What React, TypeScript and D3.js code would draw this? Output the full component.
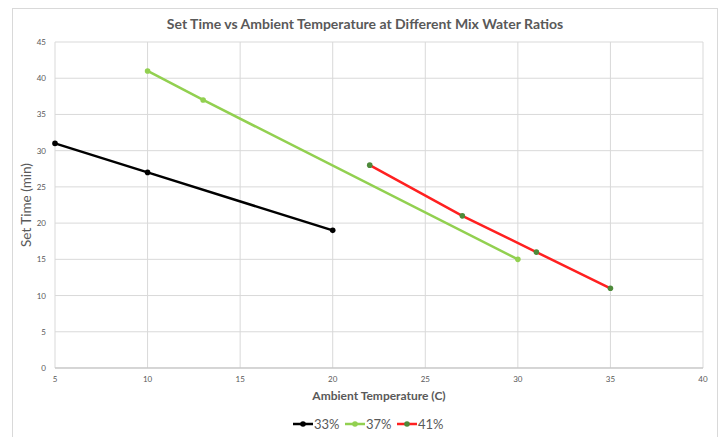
import React from "react";
import * as d3 from "d3";

const series33X = [5, 10, 20];
const series33Y = [31, 27, 19];
const series37X = [10, 13, 30];
const series37Y = [41, 37, 15];
const series41X = [22, 27, 31, 35];
const series41Y = [28, 21, 16, 11];
const xTicks = [5, 10, 15, 20, 25, 30, 35, 40];
const yTicks = [0, 5, 10, 15, 20, 25, 30, 35, 40, 45];
const seriesNames = ["33%", "37%", "41%"];

const W = 726;
const H = 437;
const FONT = "Lato, 'Open Sans', sans-serif";

export default function App() {
  const x = d3.scaleLinear().domain([5, 40]).range([55, 703]);
  const y = d3.scaleLinear().domain([0, 45]).range([368, 42]);
  const line = d3
    .line<[number, number]>()
    .x((d) => x(d[0]))
    .y((d) => y(d[1]));

  const series = [
    { name: seriesNames[0], xs: series33X, ys: series33Y, color: "#000000", marker: "#000000" },
    { name: seriesNames[1], xs: series37X, ys: series37Y, color: "#92D050", marker: "#92D050" },
    { name: seriesNames[2], xs: series41X, ys: series41Y, color: "#FF2020", marker: "#4E8A3A" },
  ];

  const legendX = [293, 345, 397];

  return (
    <svg
      width={W}
      height={H}
      style={{ position: "absolute", left: 0, top: 0, background: "#fff" }}
      fontFamily={FONT}
    >
      <rect x={12.5} y={8.5} width={705} height={440} fill="#fff" stroke="#D9D9D9" strokeWidth={1} />
      <text x={365} y={29} textAnchor="middle" fontSize={14} fontWeight="bold" fill="#595959">
        Set Time vs Ambient Temperature at Different Mix Water Ratios
      </text>
      {/* gridlines */}
      {yTicks.map((t) => (
        <line key={"gy" + t} x1={x(5)} x2={x(40)} y1={y(t)} y2={y(t)} stroke="#D9D9D9" strokeWidth={1} />
      ))}
      {xTicks.map((t) => (
        <line key={"gx" + t} x1={x(t)} x2={x(t)} y1={y(0)} y2={y(45)} stroke="#D9D9D9" strokeWidth={1} />
      ))}
      <line x1={x(5)} x2={x(40)} y1={y(0)} y2={y(0)} stroke="#BFBFBF" strokeWidth={1} />
      {/* tick labels */}
      {yTicks.map((t) => (
        <text key={"ty" + t} x={46} y={y(t) + 3} textAnchor="end" fontSize={8} fill="#595959">
          {t}
        </text>
      ))}
      {xTicks.map((t) => (
        <text key={"tx" + t} x={x(t)} y={382} textAnchor="middle" fontSize={8} fill="#595959">
          {t}
        </text>
      ))}
      <text x={379} y={400} textAnchor="middle" fontSize={12} fontWeight="bold" fill="#595959">
        Ambient Temperature (C)
      </text>
      <text
        transform={`translate(31,${y(22.5)}) rotate(-90)`}
        textAnchor="middle"
        fontSize={13.5}
        fill="#595959"
      >
        Set Time (min)
      </text>
      {/* series */}
      {series.map((s) => {
        const pts: [number, number][] = s.xs.map((v, i) => [v, s.ys[i]]);
        return (
          <g key={s.name}>
            <path d={line(pts) || ""} fill="none" stroke={s.color} strokeWidth={2.5} />
            {pts.map((p, i) => (
              <circle key={i} cx={x(p[0])} cy={y(p[1])} r={2.8} fill={s.marker} />
            ))}
          </g>
        );
      })}
      {/* legend */}
      {series.map((s, i) => (
        <g key={"lg" + s.name} transform={`translate(${legendX[i]},424)`}>
          <line x1={0} x2={20} y1={0} y2={0} stroke={s.color} strokeWidth={2.5} />
          <circle cx={10} cy={0} r={2.8} fill={s.marker} />
          <text x={21} y={4.5} fontSize={13} fill="#595959">
            {s.name}
          </text>
        </g>
      ))}
    </svg>
  );
}
